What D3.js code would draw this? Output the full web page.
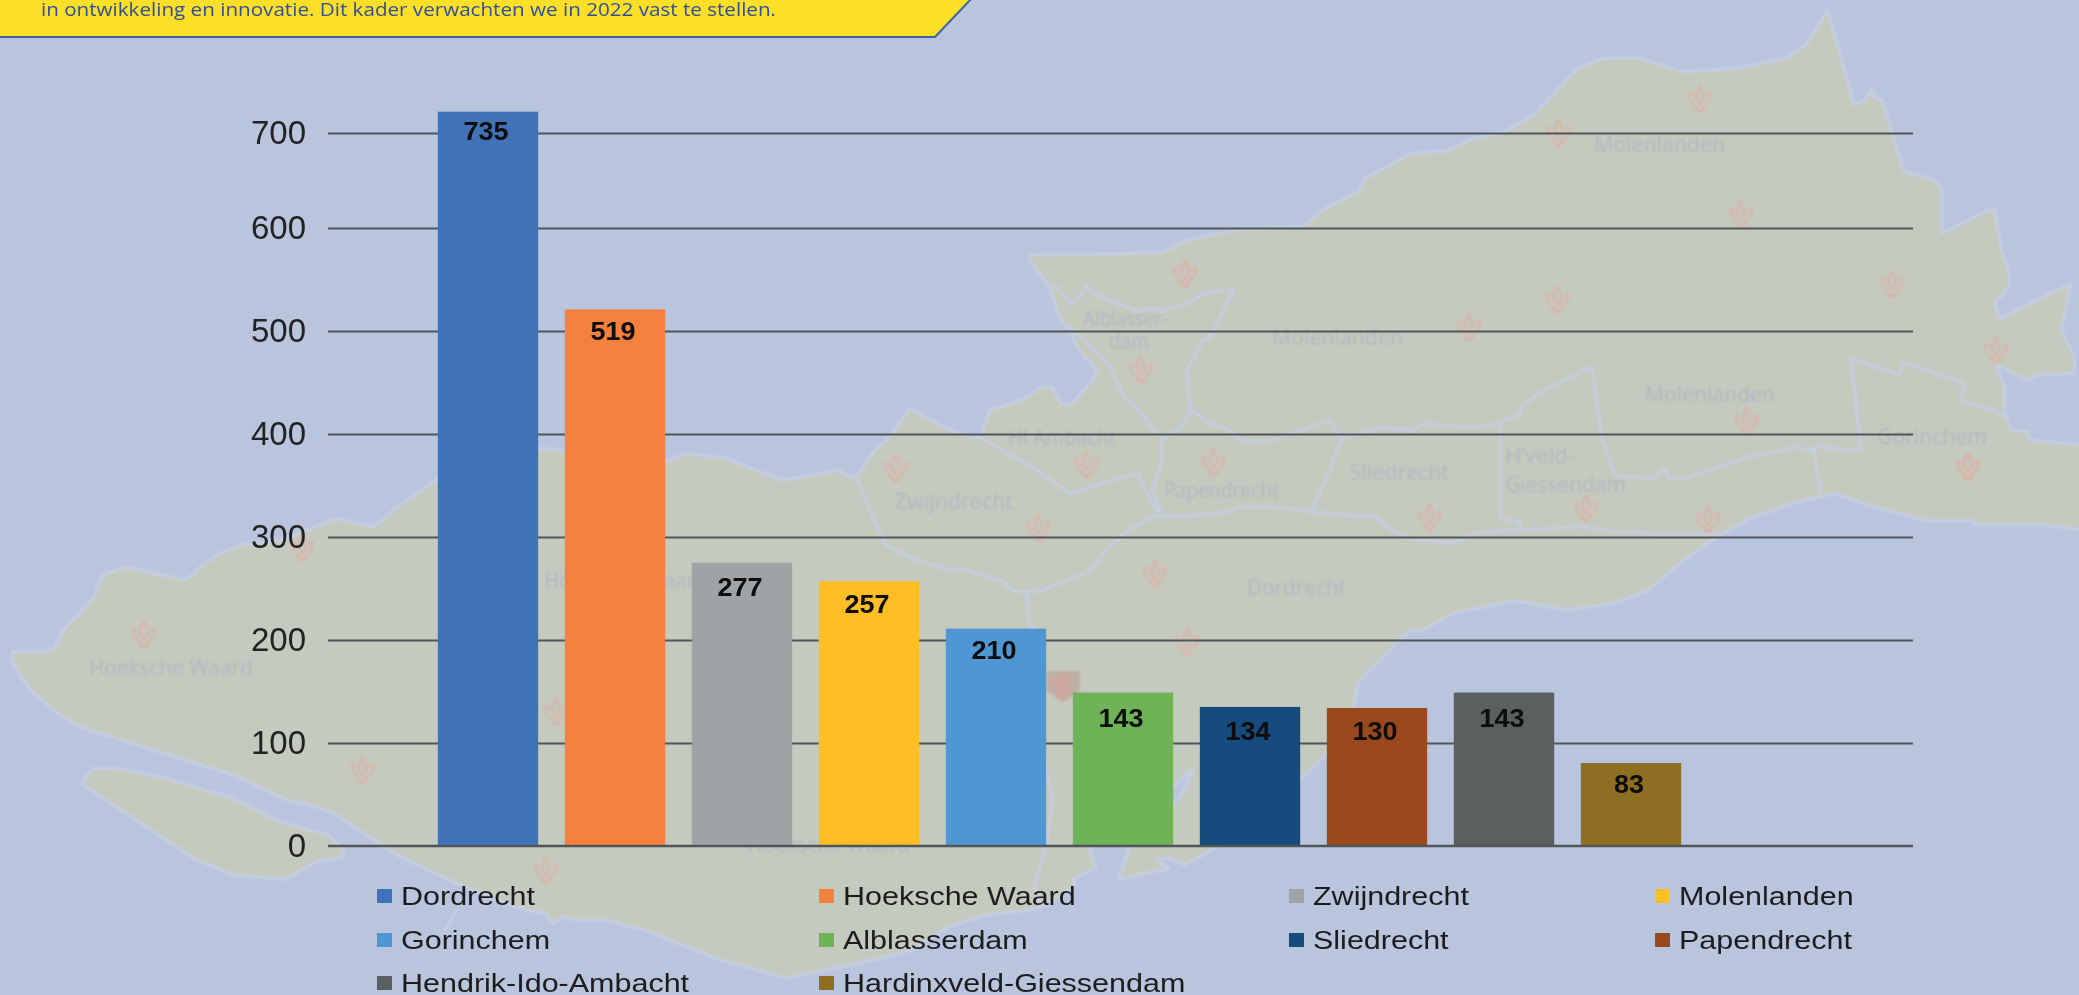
<!DOCTYPE html>
<html><head><meta charset="utf-8">
<style>html,body{margin:0;padding:0;background:#b9c4dd;overflow:hidden}svg{display:block}</style>
<script src="https://cdn.jsdelivr.net/npm/d3@7"></script>
</head><body><svg id="c" width="2079" height="995"></svg>
<script>
// ---- chart data ----
const categories = ["Dordrecht","Hoeksche Waard","Zwijndrecht","Molenlanden","Gorinchem","Alblasserdam","Sliedrecht","Papendrecht","Hendrik-Ido-Ambacht","Hardinxveld-Giessendam"];
const valueLabels = [735,519,277,257,210,143,134,130,143,83];          // printed data labels
const barValues   = [735,521,275,257,211,149,135,134,149,80.5];        // heights as drawn in the picture
const barColors   = ["#4172b8","#f4813c","#9fa3a5","#ffbe27","#4f97d3","#6eb355","#164b7d","#9a4a1c","#5a5f60","#8e6e21"];
const yTicks      = [0,100,200,300,400,500,600,700];
const yDomain     = [0,100,200,300,400,500,600,700,735];
const yRange      = [845.7,743,640,537,434,331,228,133,111.7];             // the picture's axis is not evenly spaced
const bannerText  = "in ontwikkeling en innovatie. Dit kader verwachten we in 2022 vast te stellen.";

const svg = d3.select("#c");
const defs = svg.append("defs");
const blur = (id,s)=>defs.append("filter").attr("id",id).attr("filterUnits","userSpaceOnUse")
  .attr("x",0).attr("y",0).attr("width",2079).attr("height",995)
  .append("feGaussianBlur").attr("stdDeviation",s);
blur("b1",0.8); blur("b2",0.55);

// ---- backdrop map ----
const T=(ox,oy,sx,sy)=>pts=>pts.map(([X,Y])=>[ox+X/sx,oy+Y/sy]);
const T1=T(0,0,1.508,3),T2=T(1040,0,1.508,3),T3=T(0,495,1.508,3),T4=T(1040,495,1.508,3),
      T5=T(840,230,3,3),T6=T(1340,330,2.122,3),T7=T(0,460,3,3),T8=T(520,630,1.633,3);
const land=[].concat(
 T5([[568,75],[965,68],[1040,30],[1180,0]]),
 T2([[395,680],[430,625],[480,575],[490,535],[560,460],[615,452],[650,418],[700,395],[745,345],[810,205],[850,175],[905,175],[970,215],[1055,203],[1125,175],[1155,135],[1188,30],[1228,315],[1245,300],[1253,268],[1262,298],[1270,300],[1303,515],[1345,537],[1360,565],[1360,700],[1430,630],[1440,630],[1450,750],[1462,820],[1462,860],[1440,910],[1447,955],[1555,850],[1540,990],[1560,1070],[1560,1120],[1505,1125],[1488,1140],[1442,1095],[1455,1165],[1455,1240],[1465,1290],[1490,1295],[1492,1320],[1575,1335]]),
 T6([[1575,600],[1500,585],[1345,585],[1345,572],[1245,572],[1130,530],[1050,490],[960,520],[870,565],[790,630],[730,690],[650,785],[580,820],[480,840],[370,812],[240,850],[175,900]]),
 T4([[555,410],[480,560],[475,620],[440,760],[395,850]]),
 T8([[1140,650],[1085,705],[1060,685],[1040,690],[1060,715],[985,745],[978,745],[995,650],[1080,495],[1100,415],[1068,465],[930,650],[940,715],[905,745],[905,770],[850,835],[760,855],[700,890],[640,960],[590,985],[435,1045],[320,985],[210,905],[140,870],[90,870],[70,860],[55,880],[40,850],[0,835]]),
 T7([[1390,1280],[1200,1190],[1000,1060],[930,1035],[860,1020],[700,945],[250,805],[165,755],[90,690],[38,610],[38,575],[125,575],[165,565],[185,515],[280,415],[308,345],[380,320],[555,360],[585,340],[590,330],[650,285],[730,252],[850,240],[1005,175],[1115,200],[1150,180],[1185,145],[1225,118],[1315,55]]),
 T1([[815,1345],[1003,1385],[1035,1360],[1095,1375],[1180,1440],[1250,1415]]),
 T5([[0,720],[15,735],[50,740],[100,665],[150,620],[208,535],[310,590],[380,620],[420,622],[450,540],[550,508],[605,470],[635,470],[665,522],[695,522],[775,430],[710,350],[695,310],[660,265],[625,165],[600,135],[570,95]])
);
const island=T7([[250,960],[280,925],[350,925],[500,955],[700,1015],[840,1085],[985,1125],[1030,1170],[1030,1190],[950,1205],[855,1258],[700,1245],[590,1200],[250,975]]);
const borders=[
 T5([[625,165],[650,170],[697,222],[740,168],[770,195],[895,245],[940,233],[970,245],[985,233],[1015,230],[1060,212],[1085,192],[1140,182],[1180,182],[1110,325],[1090,330],[1040,420],[1052,540]]),
 T5([[690,290],[810,405],[850,500],[880,525],[965,625]]),
 T5([[1052,540],[1025,590],[965,628],[965,700],[938,780],[965,855]]),
 T5([[1052,540],[1110,580],[1155,595],[1210,633],[1295,633],[1470,568],[1485,600],[1505,625],[1470,720],[1415,840]]),
 T5([[1505,625],[1560,610]]).concat(T6([[85,293],[155,300],[180,280],[250,292],[310,290],[380,255],[385,235],[415,195],[535,110],[555,320],[585,440],[668,443],[688,415],[698,445],[738,443],[870,378],[930,365],[962,350],[1010,365]])),
 T5([[420,622],[590,720],[690,790],[870,735],[895,735],[940,825],[965,855]]),
 T5([[50,745],[130,935],[145,950],[230,990],[320,1018],[375,1018],[490,1055],[520,1085],[595,1085],[700,1045],[750,1020],[800,960],[865,900],[940,858],[1050,858],[1170,845],[1195,832],[1310,832],[1415,845],[1560,858]]).concat(T6([[70,555],[110,600],[150,628],[240,640],[290,608],[380,600],[520,590],[575,605],[610,605],[680,615],[800,612]])),
 T6([[340,285],[340,565],[382,578],[382,600]]),
 T6([[1085,85],[1185,135],[1197,97],[1325,160],[1318,215],[1390,240],[1405,260],[1410,240]]),
 T6([[1085,85],[1105,362],[1005,350],[1020,490]]),
 T5([[560,1085],[565,1160],[580,1200]]).concat(T8([[858,420],[870,500],[860,640],[840,770],[850,835]])),
 T3([[690,1240],[670,1310]])
];
const emblems=[].concat(
 T5([[1035,130],[903,418],[167,715],[740,703],[1120,698],[595,895],[945,1030]]),
 T2([[995,297],[782,398],[1057,643],[219,820],[780,898],[647,982],[1285,852],[1441,1050],[1066,1262],[1400,1400]]),
 T6([[190,562],[522,535],[781,568],[1332,410]]),
 T4([[222,440]]),
 T7([[432,523],[907,262],[1088,930]]),
 T3([[823,1125]]),
 T8([[60,245]])
);
const mapLabels=[
 ["Molenlanden",1594,1725,145],["Molenlanden",1272,1403,338],["Molenlanden",1645,1775,395],
 ["Gorinchem",1877,1987,437],["Alblasser-",1083,1168,319],["dam",1109,1149,342],
 ["HI Ambacht",1008,1116,438],["Papendrecht",1164,1279,491],["Zwijndrecht",895,1013,502],
 ["Dordrecht",1247,1346,588],["Sliedrecht",1350,1449,473],["H\u2019veld-",1505,1575,456],
 ["Giessendam",1505,1626,485],["Hoeksche Waard",89,253,668],["Hoeksche Waard",544,708,581],["Hoeksche Waard",747,910,845]
];
const map=svg.append("g").attr("filter","url(#b1)");
const ln=d3.line();
const coast="#c6cfe4";
map.append("path").attr("d",ln(land)+"Z").attr("fill","#c5cabe").attr("stroke",coast).attr("stroke-width",3).attr("stroke-linejoin","round");
map.append("path").attr("d",ln(island)+"Z").attr("fill","#c5cabe").attr("stroke",coast).attr("stroke-width",3).attr("stroke-linejoin","round");
map.selectAll(".bd").data(borders).join("path").attr("d",d=>ln(d)).attr("fill","none").attr("stroke",coast).attr("stroke-width",2.8).attr("stroke-linejoin","round");
// coat of arms
const arms=map.append("g").attr("transform",T8([[887,170]]).map(p=>`translate(${p})`)[0]);
arms.append("path").attr("d","M-17,-16H17V4L0,16L-17,4Z").attr("fill","#bdb1a7");
arms.append("path").attr("d","M-14,-6L4,-14L9,6L-3,14Z").attr("fill","#cfa79d");
// fire-brigade emblems
const em=map.selectAll(".em").data(emblems).join("g").attr("transform",d=>`translate(${d})`)
  .attr("fill","none").attr("stroke","#dcb0a6").attr("stroke-width",1.8);
em.append("path").attr("d","M0,-13C-3,-8-5,-4-3,1L0,6L3,1C5,-4 2,-8 0,-13Z");
em.append("path").attr("d","M-11,-6C-12,0-8,5-3,8M11,-6C12,0 8,5 3,8M-11,-6L-6,-3M11,-6L6,-3");
em.append("path").attr("d","M-5,9L0,13L5,9").attr("stroke-width",2.6);
map.selectAll(".ml").data(mapLabels).join("text")
  .attr("x",d=>d[1]).attr("y",d=>d[3]+7)
  .attr("textLength",d=>d[2]-d[1]).attr("lengthAdjust","spacingAndGlyphs")
  .attr("font-family","'Open Sans'").attr("font-size",21).attr("fill","#aeb8c3").text(d=>d[0]);

// ---- yellow banner ----
const banner=svg.append("g").attr("filter","url(#b2)");
banner.append("path").attr("d","M-3,-3H973L935,37H-3Z").attr("fill","#fcdf27");
banner.append("path").attr("d","M973,-3L935,37H-3").attr("fill","none").attr("stroke","#3f62a8").attr("stroke-width",2);
banner.append("text").attr("x",41).attr("y",16).attr("textLength",735).attr("lengthAdjust","spacingAndGlyphs")
  .attr("font-family","'Open Sans'").attr("font-size",19).attr("fill","#2f4f9a").text(bannerText);

// ---- chart ----
const chart=svg.append("g").attr("filter","url(#b2)");
const y=d3.scaleLinear().domain(yDomain).range(yRange);
const x=d3.scaleBand().domain(categories).range([424.5,1694.5]).paddingInner(.21).paddingOuter(.105);
const axisG=chart.append("g").attr("transform","translate(328,0)")
  .call(d3.axisLeft(y).tickValues(yTicks).tickSize(-1585).tickPadding(22).tickFormat(d3.format("d")));
axisG.select(".domain").remove();
axisG.selectAll("line").attr("stroke","#505559").attr("stroke-width",2);
axisG.selectAll("text").attr("font-family","'Liberation Sans'").attr("font-size",33).attr("fill","#222");
const rows=d3.zip(categories,barValues,valueLabels,barColors);
chart.selectAll(".bar").data(rows).join("rect")
  .attr("x",d=>x(d[0])).attr("width",x.bandwidth())
  .attr("y",d=>y(d[1])).attr("height",d=>y(0)-y(d[1])).attr("fill",d=>d[3]);
const labelDrop=[19,22,24,23,21,25,24,23,25,21];
chart.selectAll(".val").data(rows).join("text")
  .attr("transform",(d,i)=>`translate(${x(d[0])+x.bandwidth()/2-2},${y(d[1])+labelDrop[i]}) scale(1.08,1)`)
  .attr("dy",".36em").attr("text-anchor","middle").attr("font-family","'Liberation Sans'").attr("font-weight","bold")
  .attr("font-size",25).attr("fill","#0c0c0c").text(d=>d[2]);
// baseline repeated over bar feet, as in the picture
chart.append("line").attr("x1",328).attr("x2",1913).attr("y1",y(0)).attr("y2",y(0)).attr("stroke","#505559").attr("stroke-width",2);

// legend
const colX=[377,819,1289,1655], rowY=[896,940,983];
const lg=chart.selectAll(".lg").data(rows).join("g")
  .attr("transform",(d,i)=>`translate(${colX[i%4]},${rowY[Math.floor(i/4)]})`);
lg.append("rect").attr("y",-7).attr("width",15).attr("height",14).attr("fill",d=>d[3]);
lg.append("text").attr("dy",".36em").attr("transform","translate(24,0) scale(1.22,1)")
  .attr("font-family","'Liberation Sans'").attr("font-size",25).attr("fill","#1c1c1c").text(d=>d[0]);
</script></body></html>
